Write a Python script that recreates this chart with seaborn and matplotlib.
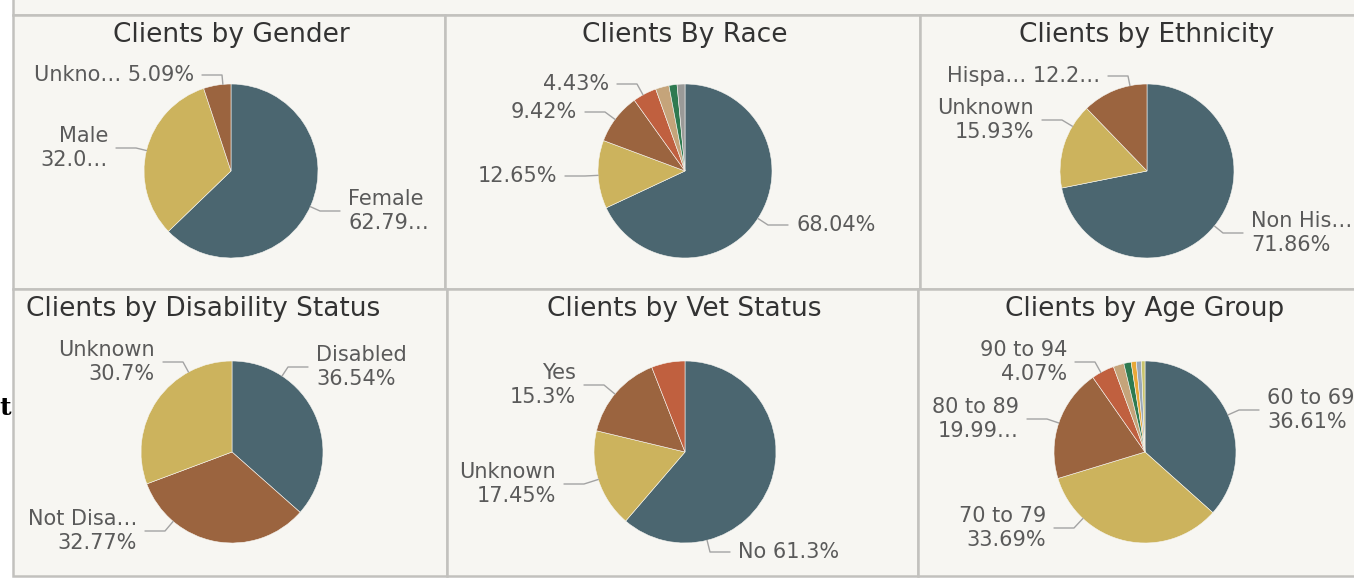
import matplotlib
matplotlib.use("Agg")
import math
import matplotlib.pyplot as plt
from matplotlib.patches import Rectangle
import seaborn as sns

# --- data ---
gender_values = [62.79, 32.12, 5.09]
gender_labels = ["Female\n62.79…", "Male\n32.0…", "Unkno… 5.09%"]

race_values = [68.04, 12.65, 9.42, 4.43, 2.5, 1.5, 1.46]
race_labels = ["68.04%", "12.65%", "9.42%", "4.43%", None, None, None]

ethnicity_values = [71.86, 15.93, 12.21]
ethnicity_labels = ["Non His…\n71.86%", "Unknown\n15.93%", "Hispa… 12.2…"]

disability_values = [36.54, 32.77, 30.70]
disability_labels = ["Disabled\n36.54%", "Not Disa…\n32.77%", "Unknown\n30.7%"]

vet_values = [61.3, 17.45, 15.3, 5.95]
vet_labels = ["No 61.3%", "Unknown\n17.45%", "Yes\n15.3%", None]

age_values = [36.61, 33.69, 19.99, 4.07, 1.9, 1.3, 0.9, 0.9, 0.64]
age_labels = ["60 to 69\n36.61%", "70 to 79\n33.69%", "80 to 89\n19.99…",
              "90 to 94\n4.07%", None, None, None, None, None]

# --- colours ---
SLATE, GOLD, BROWN, RUST = "#4b6670", "#ccb35d", "#9b643f", "#c0603f"
TAN, GREEN, GREY = "#c5a47a", "#2e7a50", "#9a9a98"
ORANGE, BLUEGREY, OLIVE = "#e8a838", "#9aa8b8", "#c9c46c"
BG, BORDER = "#f7f6f2", "#c2c1be"

W, H = 1354, 579

# layout: panel box, pie centre/radius (pixels, y down), title x, label anchors
charts = [
    dict(title="Clients by Gender", box=(13, 15, 445, 289), c=(231, 171), r=87, tx=231,
         values=gender_values, labels=gender_labels, colors=[SLATE, GOLD, BROWN],
         pos=[(348, 211), (108, 148), (194, 75)]),
    dict(title="Clients By Race", box=(445, 15, 920, 289), c=(685, 171), r=87, tx=685,
         values=race_values, labels=race_labels,
         colors=[SLATE, GOLD, BROWN, RUST, TAN, GREEN, GREY],
         pos=[(796, 225), (557, 176), (577, 112), (609, 84)]),
    dict(title="Clients by Ethnicity", box=(920, 15, 1362, 289), c=(1147, 171), r=87, tx=1147,
         values=ethnicity_values, labels=ethnicity_labels, colors=[SLATE, GOLD, BROWN],
         pos=[(1251, 233), (1034, 120), (1100, 76)]),
    dict(title="Clients by Disability Status", box=(13, 289, 447, 576), c=(232, 452), r=91, tx=203,
         values=disability_values, labels=disability_labels, colors=[SLATE, BROWN, GOLD],
         pos=[(316, 367), (137, 531), (155, 362)]),
    dict(title="Clients by Vet Status", box=(447, 289, 918, 576), c=(685, 452), r=91, tx=684,
         values=vet_values, labels=vet_labels, colors=[SLATE, GOLD, BROWN, RUST],
         pos=[(738, 552), (556, 484), (576, 385)]),
    dict(title="Clients by Age Group", box=(918, 289, 1362, 576), c=(1145, 452), r=91, tx=1145,
         values=age_values, labels=age_labels,
         colors=[SLATE, GOLD, BROWN, RUST, TAN, GREEN, ORANGE, BLUEGREY, OLIVE],
         pos=[(1267, 410), (1046, 528), (1019, 419), (1067, 362)]),
]

sns.set_theme(style="white")
plt.rcParams["font.family"] = ["DejaVu Sans"]

fig = plt.figure(figsize=(W / 100, H / 100), dpi=100, facecolor="white")
ax = fig.add_axes([0, 0, 1, 1])


def yy(y):
    return H - y


# top strip above the panels
ax.add_patch(Rectangle((13, yy(15)), W, 20, facecolor=BG, edgecolor=BORDER, lw=1.8, zorder=0))

for ch in charts:
    x0, y0, x1, y1 = ch["box"]
    ax.add_patch(Rectangle((x0, yy(y1)), x1 - x0, y1 - y0, facecolor=BG,
                           edgecolor=BORDER, lw=1.8, zorder=0))
    ax.text(ch["tx"], yy(y0 + 20), ch["title"], ha="center", va="center",
            fontsize=19, color="#333333")

    cx, cy = ch["c"]
    r = ch["r"]
    ax.pie(ch["values"], colors=ch["colors"], startangle=90, counterclock=False,
           center=(cx, yy(cy)), radius=r,
           wedgeprops=dict(edgecolor=BG, linewidth=0.4))

    # slice angle ranges, clockwise from 12 o'clock
    total = sum(ch["values"])
    start = 0.0
    ranges = []
    for v in ch["values"]:
        ranges.append((start, start + 360 * v / total))
        start += 360 * v / total

    labelled = [i for i, lab in enumerate(ch["labels"]) if lab]
    for i, (tx, ty) in zip(labelled, ch["pos"]):
        left = tx > cx
        sx = tx - 8 if left else tx + 8
        ex = sx - 20 if left else sx + 20
        a = math.degrees(math.atan2(ex - cx, cy - ty)) % 360
        a0, a1 = ranges[i]
        a = min(max(a, a0 + 1), a1 - 1)
        px = cx + r * math.sin(math.radians(a))
        py = cy - r * math.cos(math.radians(a))
        ax.plot([sx, ex, px], [yy(ty), yy(ty), yy(py)], color="#a3a3a3", lw=1, zorder=3)
        ax.text(tx, yy(ty), ch["labels"][i], ha="left" if left else "right",
                va="center", fontsize=15, color="#5a5a5a", linespacing=1.2)

# clipped text remnant at the far left
ax.text(11, yy(408), "t", ha="right", va="center", fontsize=18, fontweight="bold",
        family="DejaVu Serif", color="black")

ax.set_xlim(0, W)
ax.set_ylim(0, H)
ax.set_aspect("auto")
ax.axis("off")

fig.savefig("out.png", dpi=100, facecolor="white")
